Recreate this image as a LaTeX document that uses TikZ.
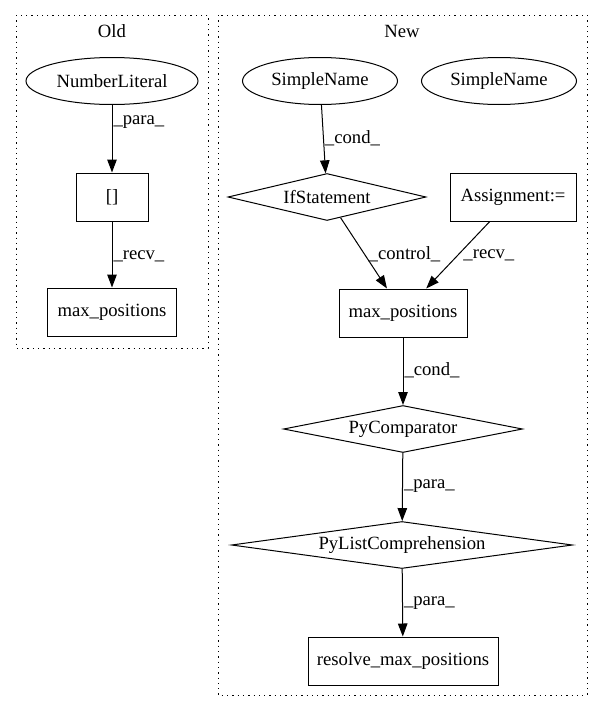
\documentclass[tikz,border=0pt]{standalone}
\usepackage{fontspec}
\setmainfont{Liberation Serif}
\usetikzlibrary{shapes.geometric,arrows.meta}
\begin{document}
\begin{tikzpicture}[x=1pt, y=-1pt, font=\fontsize{18.67}{22}\selectfont, line width=1pt, >={Triangle[length=13pt,width=9.5pt]},
		box/.style={draw, rectangle, inner sep=0pt, minimum width=#1, minimum height=48pt},
		oval/.style={draw, ellipse, inner sep=0pt, minimum width=#1, minimum height=47pt},
		cond/.style={draw, diamond, aspect=6, inner sep=0pt, minimum width=#1, minimum height=47pt},
		lbl/.style={anchor=west, inner sep=1pt},
		cluster/.style={line width=1pt, dash pattern=on 1.3pt off 4pt}]
			\useasboundingbox (0,0) rectangle (603,712);
			% Old
			\draw[cluster] (16,15) rectangle (208,348);
			\node (oldtitle) at (112,31) {Old};
			\node[oval=172pt] (numlit) at (112,81) {NumberLiteral};
			\node[box=72pt] (idx) at (112,197) {[]};
			\node[box=129pt] (oldmax) at (112,312) {max\_positions};
			\draw[->] (numlit) -- node[lbl, pos=0.25]{\_para\_} (idx);
			\draw[->] (idx) -- node[lbl, pos=0.53]{\_recv\_} (oldmax);
			% New
			\draw[cluster] (218,15) rectangle (587,695);
			\node (newtitle) at (402,31) {New};
			\node[oval=155pt] (sname) at (320,81) {SimpleName};
			\node[oval=155pt] (snametwo) at (499,81) {SimpleName};
			\node[cond=198pt] (ifst) at (327,197) {IfStatement};
			\node[box=126pt] (assign) at (513,197) {Assignment:=};
			\node[box=128pt] (newmax) at (403,313) {max\_positions};
			\node[cond=239pt] (pycomp) at (403,429) {PyComparator};
			\node[cond=341pt] (pylist) at (402,545) {PyListComprehension};
			\node[box=190pt] (resolve) at (403,661) {resolve\_max\_positions};
			\draw[->] (sname) -- node[lbl, pos=0.49]{\_cond\_} (ifst);
			\draw[->] (ifst) -- node[lbl, pos=0.51, xshift=3pt]{\_control\_} (newmax);
			\draw[->] (assign) -- node[lbl, pos=0.5, xshift=4pt]{\_recv\_} (newmax);
			\draw[->] (newmax) -- node[lbl, pos=0.49]{\_cond\_} (pycomp);
			\draw[->] (pycomp) -- node[lbl, pos=0.49]{\_para\_} (pylist);
			\draw[->] (pylist) -- node[lbl, pos=0.5]{\_para\_} (resolve);
		\end{tikzpicture}
\end{document}
